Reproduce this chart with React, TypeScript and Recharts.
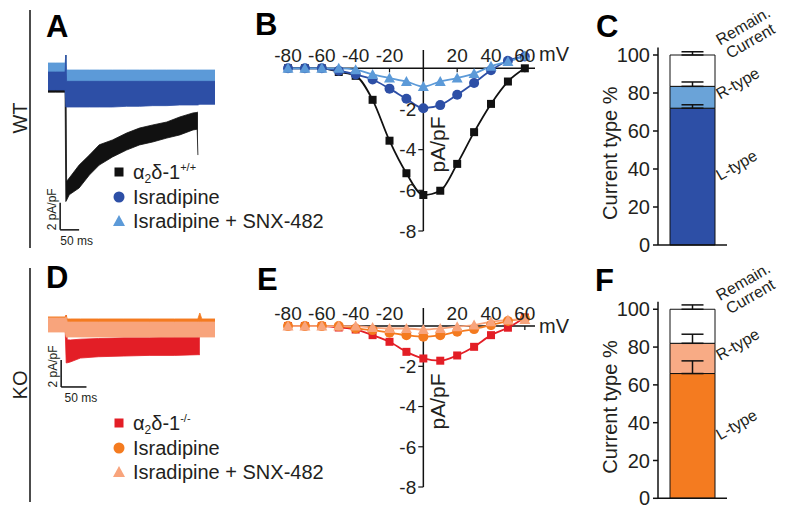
import type { ReactNode } from 'react'
import {
  ComposedChart, BarChart, Bar, Line, Area, XAxis, YAxis,
  ReferenceLine, ErrorBar, LabelList,
} from 'recharts'

const FONT = '"Liberation Sans", Arial, Helvetica, sans-serif'
const INK = '#231f20'
const BLACK = '#111111'
const BLUE = '#2d4fa6'
const LIGHT_BLUE = '#5c9ad8'
const RED = '#e31e26'
const ORANGE = '#f47b20'
const SALMON = '#f8a47c'

// I-V curves (mV -> pA/pF)
const VOLTAGES = [-80, -70, -60, -50, -40, -30, -20, -10, 0, 10, 20, 30, 40, 50, 60]
const WT_CTRL = [0, 0, 0, -0.18, -0.37, -1.55, -3.56, -5.16, -6.23, -6.02, -4.7, -3.14, -1.75, -0.65, 0.0]
const WT_ISR = [0, 0, 0, -0.12, -0.3, -0.55, -1.0, -1.5, -1.96, -1.81, -1.3, -0.72, -0.1, 0.37, 0.58]
const WT_SNX = [0, 0, 0, 0, -0.07, -0.3, -0.48, -0.65, -0.9, -0.65, -0.48, -0.26, 0.1, 0.33, 0.6]
const KO_CTRL = [0, 0, 0, -0.07, -0.17, -0.45, -0.78, -1.28, -1.61, -1.72, -1.46, -1.03, -0.45, -0.08, 0.43]
const KO_ISR = [0, 0, 0, 0, -0.12, -0.2, -0.33, -0.45, -0.53, -0.45, -0.28, -0.15, 0.05, 0.25, 0.38]
const KO_SNX = [0, 0, 0, 0, 0, -0.07, -0.12, -0.12, -0.17, -0.12, -0.03, 0.05, 0.22, 0.3, 0.33]
const IV_X_TICKS = [-80, -60, -40, -20, 20, 40, 60]
const IV_Y_TICKS = [-2, -4, -6, -8]

// current traces, envelope [low, high] in pA/pF over time (ms)
const A_TIME = [0, 20, 45, 47, 49, 56, 82, 109, 135, 170, 207, 241, 276, 313, 347, 382, 393, 395, 400, 440]
const A_CTRL = [[-0.9, 0.2], [-0.9, 0.2], [-0.9, 0.2], [-9.0, 1.85], [-8.9, -7.5], [-8.5, -7.26], [-8.0, -6.3], [-7.04, -5.56], [-6.3, -4.8], [-5.7, -4.44], [-5.19, -3.93], [-4.81, -3.56], [-4.59, -3.33], [-4.3, -3.11], [-4.07, -2.74], [-3.7, -2.44], [-3.65, -2.4], [-5.56, -2.37], null, null]
const A_ISR = [[-0.74, 0.59], [-0.74, 0.59], [-0.74, 0.59], [-2.0, 1.85], [-2.0, -0.1], [-2.0, -0.1], [-2.0, -0.1], [-2.0, -0.1], [-2.0, -0.1], [-2.0, -0.1], [-1.95, -0.1], [-1.95, -0.1], [-1.9, -0.1], [-1.9, -0.1], [-1.85, -0.1], [-1.85, -0.1], [-1.85, -0.1], [-1.85, -0.1], [-1.8, -0.1], [-1.8, -0.1]]
const A_SNX = [[-0.3, 1.26], [-0.3, 1.26], [-0.3, 1.26], [-1.3, 1.85], [-1.3, 0.74], [-1.3, 0.74], [-1.3, 0.74], [-1.3, 0.74], [-1.3, 0.74], [-1.3, 0.74], [-1.3, 0.74], [-1.3, 0.74], [-1.3, 0.74], [-1.3, 0.74], [-1.3, 0.74], [-1.3, 0.74], [-1.3, 0.74], [-1.3, 0.74], [-1.3, 0.74], [-1.3, 0.74]]

const D_TIME = [0, 20, 34, 36, 38, 44, 64, 100, 150, 200, 250, 296, 300, 304, 330]
const D_CTRL = [[-0.37, 0.37], [-0.37, 0.37], [-0.37, 0.37], [-2.81, 0.74], [-2.8, -1.1], [-2.74, -1.11], [-2.45, -1.05], [-2.35, -1.0], [-2.3, -0.95], [-2.25, -0.95], [-2.25, -0.9], [-2.2, -0.9], [-2.2, -0.9], null, null]
const D_ISR = [[-0.45, 0.6], [-0.45, 0.6], [-0.45, 0.6], [-0.8, 0.74], [-0.7, 0.45], [-0.7, 0.45], [-0.7, 0.45], [-0.7, 0.45], [-0.7, 0.45], [-0.7, 0.45], [-0.7, 0.45], [-0.7, 0.45], [-0.7, 0.89], [-0.7, 0.45], [-0.7, 0.45]]
const D_SNX = [[-0.52, 0.52], [-0.52, 0.52], [-0.52, 0.52], [-0.9, 0.6], [-0.89, 0.22], [-0.89, 0.22], [-0.89, 0.22], [-0.89, 0.22], [-0.89, 0.22], [-0.89, 0.22], [-0.89, 0.22], [-0.89, 0.22], [-0.89, 0.22], [-0.89, 0.22], [-0.89, 0.22]]

// current type fractions (%): L-type, R-type, remaining
const SEG_NAMES = [['L-type'], ['R-type'], ['Remain.', 'Current']]
const WT_SEGS = [72, 11.5, 16.5]
const WT_ERRS = [1.8, 2.3, 1.7]
const KO_SEGS = [66, 16, 18]
const KO_ERRS = [6.7, 4.8, 2.3]
const PCT_TICKS = [0, 20, 40, 60, 80, 100]

type Shape = 'square' | 'circle' | 'triangle'

function Marker({ cx, cy, shape, color, size }: { cx: number; cy: number; shape: Shape; color: string; size: number }) {
  if (cx == null || cy == null) return null
  const h = size / 2
  if (shape === 'square') return <rect x={cx - h} y={cy - h} width={size} height={size} fill={color} />
  if (shape === 'circle') return <circle cx={cx} cy={cy} r={h + 0.5} fill={color} />
  return <polygon points={`${cx},${cy - h - 1} ${cx - h - 1},${cy + h} ${cx + h + 1},${cy + h}`} fill={color} />
}

function ivRows(a: number[], b: number[], c: number[]) {
  return VOLTAGES.map((v, i) => ({ v, ctrl: a[i], isr: b[i], snx: c[i] }))
}

const tickText = { fontSize: 19, fill: INK }

function IvPanel({ top, height, mTop, mBottom, colors, data, mvDy }: {
  top: number; height: number; mTop: number; mBottom: number; colors: string[]
  data: ReturnType<typeof ivRows>; mvDy: number
}) {
  const keys = ['ctrl', 'isr', 'snx']
  const shapes: Shape[] = ['square', 'circle', 'triangle']
  return (
    <div style={{ position: 'absolute', left: 250, top }}>
      <ComposedChart width={340} height={height} data={data} margin={{ top: mTop, right: 55, bottom: mBottom, left: 38 }}>
        <XAxis type="number" dataKey="v" domain={[-80, 66]} hide />
        <YAxis type="number" domain={[-8, 0.9]} hide />
        <ReferenceLine y={0} stroke={BLACK} strokeWidth={1.5}
          label={{ value: 'mV', position: 'right', offset: 4, dy: mvDy, fontSize: 20, fill: INK }} />
        <ReferenceLine x={0} stroke={BLACK} strokeWidth={1.5}
          label={{ value: 'pA/pF', position: 'center', angle: -90, dx: 14, dy: 4, fontSize: 21, fill: INK }} />
        {IV_X_TICKS.map(v => (
          <ReferenceLine key={'x' + v} segment={[{ x: v, y: 0 }, { x: v, y: -0.2 }]} stroke={BLACK} strokeWidth={1.2}
            label={{ value: v, position: 'top', offset: 6, ...tickText }} />
        ))}
        {IV_Y_TICKS.map(v => (
          <ReferenceLine key={'y' + v} segment={[{ x: -3, y: v }, { x: 0, y: v }]} stroke={BLACK} strokeWidth={1.2}
            label={{ value: v, position: 'left', offset: 2, ...tickText }} />
        ))}
        {keys.map((k, i) => (
          <Line key={k} dataKey={k} type="monotone" stroke={colors[i]} strokeWidth={1.8}
            isAnimationActive={false} activeDot={false}
            dot={(p: any) => <Marker key={k + p.index} cx={p.cx} cy={p.cy} shape={shapes[i]} color={colors[i]} size={i === 0 ? 8 : 9} />} />
        ))}
      </ComposedChart>
    </div>
  )
}

function TracePanel({ top, height, mTop, mBottom, rows, xMax, yDomain, series, bar }: {
  top: number; height: number; mTop: number; mBottom: number; rows: any[]; xMax: number
  yDomain: [number, number]; series: { key: string; color: string }[]; bar: { t: number; y: number }
}) {
  return (
    <div style={{ position: 'absolute', left: 0, top }}>
      <ComposedChart width={270} height={height} data={rows} margin={{ top: mTop, right: 270 - 215, bottom: mBottom, left: 48 }}>
        <XAxis type="number" dataKey="t" domain={[0, xMax]} hide />
        <YAxis type="number" domain={yDomain} hide />
        {series.map(s => (
          <Area key={s.key} dataKey={s.key} type="linear" stroke={s.color} strokeWidth={0.8} fill={s.color} fillOpacity={1}
            isAnimationActive={false} activeDot={false} dot={false} />
        ))}
        <ReferenceLine segment={[{ x: bar.t, y: bar.y + 2 }, { x: bar.t, y: bar.y }]} stroke={BLACK} strokeWidth={1.5}
          label={{ value: '2 pA/pF', position: 'center', angle: -90, dx: -8, dy: -7, fontSize: 12, fill: INK }} />
        <ReferenceLine segment={[{ x: bar.t, y: bar.y }, { x: bar.t + 50, y: bar.y }]} stroke={BLACK} strokeWidth={1.5}
          label={{ value: '50 ms', position: 'bottom', offset: 7, dx: 7, fontSize: 12, fill: INK }} />
      </ComposedChart>
    </div>
  )
}

function SegLabel({ viewBox, lines, dy }: any) {
  if (!viewBox) return null
  const x = viewBox.x + viewBox.width + 5
  const y = viewBox.y + viewBox.height / 2 + dy
  return (
    <g transform={`translate(${x},${y}) rotate(-30)`}>
      {lines.map((s: string, i: number) => (
        <text key={s} x={i * 2} y={i * 16.5} fontSize={16} fill={INK}>{s}</text>
      ))}
    </g>
  )
}

function TypeBars({ top, height, mTop, mBottom, segs, errs, colors }: {
  top: number; height: number; mTop: number; mBottom: number; segs: number[]; errs: number[]; colors: string[]
}) {
  const row = { name: 'g', L: segs[0], R: segs[1], Rem: segs[2], eL: [0, errs[0]], eR: [0, errs[1]], eRem: [0, errs[2]] }
  const keys = ['L', 'R', 'Rem']
  const labelDy = [4.5, 2.5, -25]
  return (
    <div style={{ position: 'absolute', left: 590, top }}>
      <BarChart width={210} height={height} data={[row]} margin={{ top: mTop, right: 73, bottom: mBottom, left: 0 }} barSize={45}>
        <XAxis dataKey="name" height={10} tick={false} tickSize={5}
          tickLine={{ stroke: BLACK, strokeWidth: 1.5 }} axisLine={{ stroke: BLACK, strokeWidth: 1.5 }} />
        <YAxis width={68} type="number" domain={[0, 104]} ticks={PCT_TICKS} interval={0} tickSize={5} tickMargin={3}
          tick={{ fontSize: 20, fill: INK }} tickLine={{ stroke: BLACK, strokeWidth: 1.5 }} axisLine={{ stroke: BLACK, strokeWidth: 1.5 }}
          label={{ value: 'Current type %', angle: -90, position: 'center', dx: -14, dy: 7, fontSize: 20, fill: INK }} />
        {keys.map((k, i) => (
          <Bar key={k} dataKey={k} stackId="s" fill={colors[i]} stroke={BLACK} strokeWidth={1} isAnimationActive={false}>
            <ErrorBar dataKey={'e' + k} direction="y" width={11} stroke={BLACK} strokeWidth={1.5} />
            <LabelList dataKey={k} content={(p: any) => <SegLabel viewBox={p.viewBox} lines={SEG_NAMES[i]} dy={labelDy[i]} />} />
          </Bar>
        ))}
      </BarChart>
    </div>
  )
}

function KeyIcon({ shape, color }: { shape: Shape; color: string }) {
  return (
    <svg width={14} height={14} style={{ display: 'block' }}>
      <Marker cx={7} cy={7} shape={shape} color={color} size={shape === 'square' ? 9 : 10} />
    </svg>
  )
}

function SeriesKey({ top, items }: { top: number; items: { name: ReactNode; color: string; shape: Shape }[] }) {
  return (
    <div style={{ position: 'absolute', left: 112, top, fontSize: 20, color: INK, lineHeight: '24.5px' }}>
      {items.map((it, i) => (
        <div key={i} style={{ display: 'flex', alignItems: 'center', height: 24.5, gap: 7, whiteSpace: 'nowrap' }}>
          <KeyIcon shape={it.shape} color={it.color} />
          <span>{it.name}</span>
        </div>
      ))}
    </div>
  )
}

const sub = { fontSize: '0.6em', verticalAlign: '-0.3em', lineHeight: 0 }
const sup = { fontSize: '0.55em', verticalAlign: '0.7em', lineHeight: 0 }

export default function App() {
  const wt = ivRows(WT_CTRL, WT_ISR, WT_SNX)
  const ko = ivRows(KO_CTRL, KO_ISR, KO_SNX)
  const aRows = A_TIME.map((t, i) => ({ t, ctrl: A_CTRL[i], isr: A_ISR[i], snx: A_SNX[i] }))
  const dRows = D_TIME.map((t, i) => ({ t, ctrl: D_CTRL[i], isr: D_ISR[i], snx: D_SNX[i] }))

  return (
    <div style={{ position: 'absolute', left: 0, top: 0, width: 800, height: 516, background: '#fff', fontFamily: FONT, overflow: 'hidden' }}>
      <TracePanel top={0} height={250} mTop={53} mBottom={14.75} rows={aRows} xMax={440} yDomain={[-11.5, 2]}
        series={[{ key: 'ctrl', color: BLACK }, { key: 'snx', color: LIGHT_BLUE }, { key: 'isr', color: BLUE }]} bar={{ t: 32, y: -11.1 }} />
      <TracePanel top={250} height={266} mTop={54.75} mBottom={116.75} rows={dRows} xMax={330} yDomain={[-5.5, 1.5]}
        series={[{ key: 'ctrl', color: RED }, { key: 'isr', color: ORANGE }, { key: 'snx', color: SALMON }]} bar={{ t: 26, y: -4.59 }} />

      <IvPanel top={0} height={250} mTop={50} mBottom={19} colors={[BLACK, BLUE, LIGHT_BLUE]} data={wt} mvDy={-14} />
      <IvPanel top={250} height={266} mTop={58} mBottom={29} colors={[RED, ORANGE, SALMON]} data={ko} mvDy={0} />

      <TypeBars top={0} height={260} mTop={47.4} mBottom={5} segs={WT_SEGS} errs={WT_ERRS} colors={[BLUE, '#6aa3d8', '#ffffff']} />
      <TypeBars top={250} height={266} mTop={51.7} mBottom={7.7} segs={KO_SEGS} errs={KO_ERRS} colors={[ORANGE, '#f8ab85', '#ffffff']} />

      <SeriesKey top={160} items={[
        { name: <>α<sub style={sub}>2</sub>δ-1<sup style={sup}>+/+</sup></>, color: BLACK, shape: 'square' },
        { name: 'Isradipine', color: BLUE, shape: 'circle' },
        { name: 'Isradipine + SNX-482', color: LIGHT_BLUE, shape: 'triangle' },
      ]} />
      <SeriesKey top={411} items={[
        { name: <>α<sub style={sub}>2</sub>δ-1<sup style={sup}>-/-</sup></>, color: RED, shape: 'square' },
        { name: 'Isradipine', color: ORANGE, shape: 'circle' },
        { name: 'Isradipine + SNX-482', color: SALMON, shape: 'triangle' },
      ]} />

      <svg width={800} height={516} style={{ position: 'absolute', left: 0, top: 0, pointerEvents: 'none' }}>
        <g fontWeight="bold" fontSize={31} fill="#000">
          <text x={46} y={37}>A</text>
          <text x={255} y={35}>B</text>
          <text x={596} y={37}>C</text>
          <text x={46} y={288}>D</text>
          <text x={257} y={290}>E</text>
          <text x={595} y={291}>F</text>
        </g>
        <line x1={30} y1={10} x2={30} y2={248} stroke={BLACK} strokeWidth={1.5} />
        <line x1={30} y1={268} x2={30} y2={502} stroke={BLACK} strokeWidth={1.5} />
        <text x={20} y={118} transform="rotate(-90, 20, 118)" textAnchor="middle" dominantBaseline="central" fontSize={20} fill={INK}>WT</text>
        <text x={20} y={385} transform="rotate(-90, 20, 385)" textAnchor="middle" dominantBaseline="central" fontSize={20} fill={INK}>KO</text>
      </svg>
    </div>
  )
}
